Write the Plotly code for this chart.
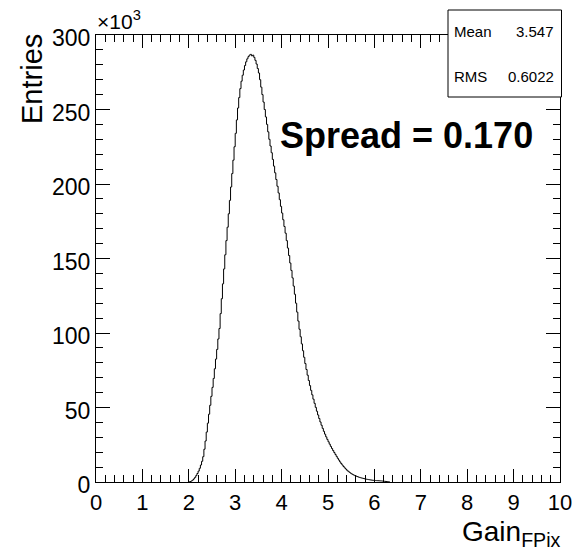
import plotly.graph_objects as go

# ---------------- data ----------------
bin_lo = 2.0          # lower edge of first listed bin
bin_width = 0.025     # histogram bin width
# entries per bin, in units of 10^3
entries_k = [
    0.1, 0.3, 0.7, 1.3, 2.1, 3.1, 4.3, 5.7, 7.3, 9.2, 11.4, 13.9,
    17, 22, 27.5, 33.5, 39.5, 45.5, 51.5, 57.5, 63.5, 69.5, 76, 82.5, 89, 96,
    103, 113, 123, 133, 143, 152.5, 162, 171, 180, 189, 198, 207, 216, 225,
    234, 243, 251, 258, 264, 269, 273, 276.5, 279.5, 282, 284, 285.5, 286.5, 287,
    286, 286.5, 285, 283, 280.5, 277.5,
    274.5, 270, 265, 260, 255, 250, 245, 240, 235, 230, 225.5, 221, 216.5, 212,
    207.5, 203, 198.5, 194, 189.5, 185, 180.5, 176, 171.5, 167, 162, 157, 152,
    147, 142, 137, 131.5, 126, 120, 114, 108, 102.5,
    97.5, 92.7, 88.1, 83.7, 79.5, 75.5, 71.7, 68.1, 64.7, 61.5,
    58.5, 55.6, 52.8, 50.1, 47.5, 45.0, 42.6, 40.3, 38.1, 36.0,
    34.0, 32.1, 30.3, 28.6, 27.0, 25.4, 23.9, 22.5, 21.1, 19.8, 18.5,
    17.2, 15.9, 14.7, 13.5, 12.4, 11.4, 10.4, 9.5, 8.7, 7.9,
    7.2, 6.6, 6.0, 5.5, 5.0, 4.6, 4.25, 3.9, 3.6, 3.3, 3.05, 2.8, 2.6, 2.4,
    2.2, 2.0, 1.85, 1.7, 1.55, 1.4, 1.3, 1.2, 1.1, 1.0,
    0.95, 0.9, 0.85, 0.8, 0.75, 0.7, 0.6, 0.5, 0.4, 0.3, 0.25, 0.2,
]
x_ticks = [0, 1, 2, 3, 4, 5, 6, 7, 8, 9, 10]
y_ticks = [0, 50, 100, 150, 200, 250, 300]
stat_labels = ["Mean", "RMS"]
stat_values = ["3.547", "0.6022"]
spread_text = "Spread = 0.170"

# ---------------- figure ----------------
W, H = 573, 550
L, R, T, B = 96, 13, 35, 68
PW, PH = W - L - R, H - T - B
FONT = "Liberation Sans, Arial, Helvetica, sans-serif"


def fx(px):
    return (px - L) / PW


def fy(py):
    return (H - B - py) / PH


n = len(entries_k)
edges = [bin_lo + i * bin_width for i in range(n + 1)]
xs = [edges[0]] + edges[:n] + [edges[n]]
ys = [0] + entries_k + [0]

fig = go.Figure()
fig.add_trace(go.Scatter(x=xs, y=ys, mode="lines", line=dict(color="black", width=1, shape="hv"),
                         hoverinfo="skip", showlegend=False, cliponaxis=False))

axis_common = dict(showgrid=False, zeroline=False, showline=True, linecolor="black", linewidth=1,
                   mirror="allticks", ticks="inside", tickcolor="black", tickwidth=1, automargin=False)

fig.update_layout(
    width=W, height=H,
    margin=dict(l=L, r=R, t=T, b=B, pad=0, autoexpand=False),
    paper_bgcolor="white", plot_bgcolor="white",
    showlegend=False,
    xaxis=dict(range=[0, 10], tickvals=x_ticks, ticklen=13, ticklabelstandoff=1,
               tickfont=dict(family=FONT, size=22, color="black"),
               minor=dict(dtick=0.2, ticklen=7, ticks="inside", tickcolor="black", showgrid=False),
               **axis_common),
    yaxis=dict(range=[0, 300], tickvals=y_ticks, ticklen=14, ticklabelshift=3,
               tickfont=dict(family=FONT, size=23, color="black"),
               minor=dict(dtick=10, ticklen=7, ticks="inside", tickcolor="black", showgrid=False),
               **axis_common),
)

ann = []
# x10^3 multiplier
ann.append(dict(x=fx(95), y=fy(35), xref="paper", yref="paper", xanchor="left", yanchor="bottom",
                text="×10<sup>3</sup>", showarrow=False, font=dict(family=FONT, size=21, color="black")))
# y title
ann.append(dict(x=fx(32), y=fy(32), xref="paper", yref="paper", xanchor="center", yanchor="top",
                text="Entries", textangle=-90, showarrow=False, font=dict(family=FONT, size=29, color="black")))
# x title
ann.append(dict(x=fx(563), y=fy(553), xref="paper", yref="paper", xanchor="right", yanchor="bottom",
                text="Gain<sub>FPix</sub>", showarrow=False, font=dict(family=FONT, size=28, color="black")))
# spread text
ann.append(dict(x=fx(278), y=fy(135), xref="paper", yref="paper", xanchor="left", yanchor="middle",
                text="<b>" + spread_text + "</b>", showarrow=False, font=dict(family=FONT, size=36, color="black")))
# stats box text
for i, (lab, val) in enumerate(zip(stat_labels, stat_values)):
    yc = 32 + i * 45
    ann.append(dict(x=fx(452), y=fy(yc), xref="paper", yref="paper", xanchor="left", yanchor="middle",
                    text=lab, showarrow=False, font=dict(family=FONT, size=15, color="black")))
    ann.append(dict(x=fx(556), y=fy(yc), xref="paper", yref="paper", xanchor="right", yanchor="middle",
                    text=val, showarrow=False, font=dict(family=FONT, size=15, color="black")))
fig.update_layout(annotations=ann)

fig.add_shape(type="rect", xref="paper", yref="paper", x0=fx(448), x1=fx(561.5), y0=fy(97), y1=fy(10),
              line=dict(color="black", width=1), fillcolor="white", layer="above")

fig.write_html("out.html")
